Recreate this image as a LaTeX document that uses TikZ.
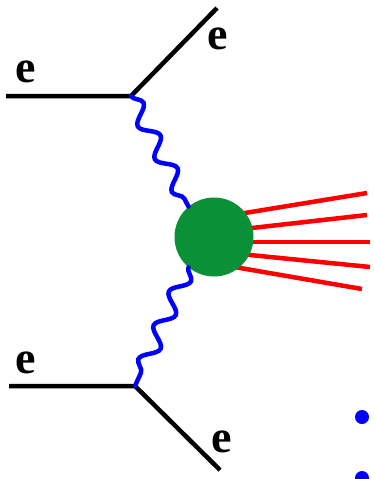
\documentclass[tikz,border=0pt]{standalone}
\usepackage{fontspec}
\setmainfont{Liberation Serif}
\usetikzlibrary{decorations.pathmorphing,backgrounds}
\definecolor{blobgreen}{RGB}{10,145,55}
\tikzset{
  electron/.style={line width=4.5pt, black},
  photon/.style={line width=4.5pt, blue, line cap=round, decorate, decoration={snake, segment length=37pt, amplitude=8pt}},
  jet/.style={line width=4.5pt, red},
  elabel/.style={inner sep=0pt, font=\fontsize{46}{46}\selectfont\bfseries},
  blob/.style={circle, fill=blobgreen, minimum size=79pt, inner sep=0pt},
  dot/.style={circle, fill=blue, minimum size=14pt, inner sep=0pt}
}
\begin{document}
\begin{tikzpicture}[x=1pt,y=-1pt]
\useasboundingbox (0,0) rectangle (374,479);
% electrons
\coordinate (tin) at (6,96);
\coordinate (tv) at (131,96);
\coordinate (tout) at (217,8);
\coordinate (bin) at (9,386);
\coordinate (bv) at (135,386);
\coordinate (bout) at (220,470);
\draw[electron] (tin) -- (tv) -- (tout);
\draw[electron] (bin) -- (bv) -- (bout);
\node[elabel] (e1) at (26,72) {e};
\node[elabel] (e2) at (218,39) {e};
\node[elabel] (e3) at (26,363) {e};
\node[elabel] (e4) at (222,442) {e};
% blob
\node[blob] (X) at (214,237) {};
% photons
\draw[photon] (tv) -- (X.130);
\draw[photon] (X.230) -- (bv);
% jets
\begin{scope}[on background layer]
\coordinate (j1) at (367,193);
\coordinate (j2) at (367,215);
\coordinate (j3) at (370,242);
\coordinate (j4) at (370,267);
\coordinate (j5) at (362,289);
\draw[jet] (235,214.6) -- (j1);
\draw[jet] (235,229.9) -- (j2);
\draw[jet] (235,242) -- (j3);
\draw[jet] (235,253.5) -- (j4);
\draw[jet] (235,267.1) -- (j5);
\end{scope}
% dots
\node[dot] (d1) at (362,417) {};
\node[dot] (d2) at (362,478) {};
\end{tikzpicture}
\end{document}
